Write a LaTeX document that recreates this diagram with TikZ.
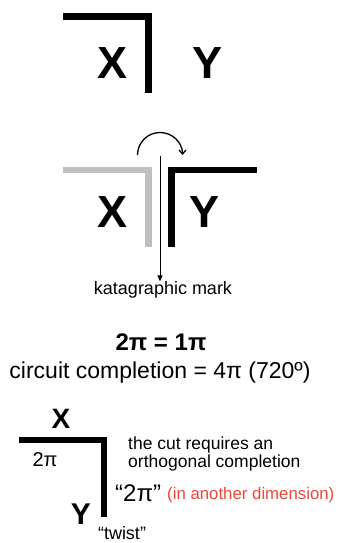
\documentclass[tikz,border=0pt]{standalone}
\usepackage{fontspec}
\setmainfont{Liberation Sans}
\usetikzlibrary{arrows.meta,positioning}
\definecolor{cutGrey}{RGB}{192,192,192}
\definecolor{noteRed}{RGB}{236,72,58}

\begin{document}
\begin{tikzpicture}[
  x=1pt, y=-1pt,
  letter/.style={font=\fontsize{45}{45}\selectfont\bfseries, inner sep=0pt},
  smallletter/.style={font=\fontsize{28}{28}\selectfont\bfseries, inner sep=0pt},
  bar/.style={line width=6.5pt},
  note/.style={font=\fontsize{17.5}{18}\selectfont, inner sep=0pt, align=left},
  arr/.style={-{Triangle[length=6pt, width=5pt]}, line width=1pt},
  turn/.style={-{Straight Barb[length=4pt, width=7pt]}, line width=1.3pt}
]
\useasboundingbox (0,0) rectangle (340,543);

% Fila 1: corte simple
\draw[bar] (63,16.5) -| (148.5,93);
\node[letter] (x1) at (113,63) {X};
\node[letter] (y1) at (208,63) {Y};

% Fila 2: marca katagrafica
\draw[bar, cutGrey] (63,170) -| (148.5,247);
\draw[bar] (257,170) -| (171.5,247);
\node[letter] (x2) at (113,212) {X};
\node[letter] (y2) at (205,212) {Y};
\node[font=\fontsize{18}{18}\selectfont, inner sep=0pt] (mark) at (163,290) {katagraphic mark};
\coordinate (cutTop) at (160,156);
\coordinate (turnA) at (137.5,155);
\coordinate (turnB) at (182.5,155);
\draw[arr] (cutTop) -- (cutTop |- mark.north);
\draw[turn] (turnA) arc[start angle=180, end angle=360, radius=22.5];

% Fila 3: ecuaciones
\node[font=\fontsize{24}{24}\selectfont\bfseries, inner sep=0pt] (eq) at (161,342) {2π = 1π};
\node[font=\fontsize{23}{23}\selectfont, inner sep=0pt] (circuit) at (160,373) {circuit completion = 4π (720º)};

% Fila 4: completado ortogonal
\draw[bar] (19,440) -| (104,517);
\node[smallletter] (x3) at (61,419) {X};
\node[smallletter, font=\fontsize{30}{30}\selectfont\bfseries] (y3) at (81,514) {Y};
\node[note, font=\fontsize{20}{20}\selectfont] (twopi) at (45,460) {2π};
\node[note, anchor=west] (cut) at (128,454) {the cut requires an\\orthogonal completion};
\node[font=\fontsize{24}{24}\selectfont, inner sep=0pt, anchor=west] (quoted) at (115,493) {“2π”};
\node[note, anchor=west, text=noteRed, font=\fontsize{16.8}{18}\selectfont] (dim) at (167,495) {(in another dimension)};
\node[note, font=\fontsize{18}{18}\selectfont] (twist) at (122,533) {“twist”};
\end{tikzpicture}
\end{document}
